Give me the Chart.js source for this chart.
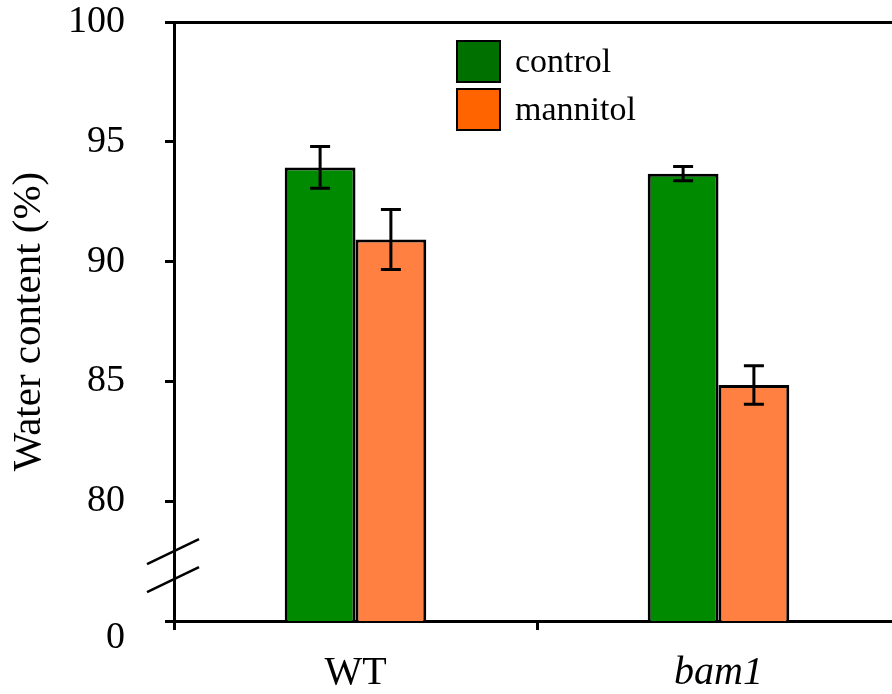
<!DOCTYPE html>
<html>
<head>
<meta charset="utf-8">
<script src="https://cdn.jsdelivr.net/npm/chart.js@4/dist/chart.umd.min.js"></script>
<style>
  html, body { margin: 0; padding: 0; background: #fff; }
  #wrap { width: 892px; height: 694px; overflow: hidden; position: relative; }
  #wrap canvas { position: absolute; left: 0; top: 0; }
</style>
</head>
<body>
<div id="wrap"><canvas id="myChart" width="904" height="694"></canvas></div>
<script>
// data
const groups = ['WT', 'bam1'];
const seriesNames = ['control', 'mannitol'];
const controlValues = [93.93, 93.67];
const controlErrors = [0.87, 0.3];
const mannitolValues = [90.92, 84.85];
const mannitolErrors = [1.25, 0.8];
const yTicks = [75, 80, 85, 90, 95, 100];   // 75 is the broken-axis "0"

const serif = '"Liberation Serif", "Times New Roman", serif';
const barColors = ['#008a00', '#ff8040'];
const legendColors = ['#007000', '#ff6400'];

// error bars, drawn from each bar element and the y scale
const errorBars = {
  id: 'errorBars',
  afterDatasetsDraw(chart) {
    const c = chart.ctx;
    const y = chart.scales.y;
    c.save();
    c.strokeStyle = '#000';
    c.lineWidth = 3;
    chart.data.datasets.forEach((ds, i) => {
      chart.getDatasetMeta(i).data.forEach((bar, j) => {
        const v = ds.data[j], e = ds.errors[j];
        const top = y.getPixelForValue(v + e);
        const bot = y.getPixelForValue(v - e);
        c.beginPath();
        c.moveTo(bar.x, top); c.lineTo(bar.x, bot);
        c.moveTo(bar.x - 10, top); c.lineTo(bar.x + 10, top);
        c.moveTo(bar.x - 10, bot); c.lineTo(bar.x + 10, bot);
        c.stroke();
      });
    });
    c.restore();
  }
};

// the two slashes of the axis break + the legend box
const extras = {
  id: 'extras',
  afterDraw(chart) {
    const c = chart.ctx;
    const y = chart.scales.y;
    const ax = chart.chartArea.left;
    c.save();
    c.strokeStyle = '#000';
    c.lineWidth = 2.5;
    [77.92, 76.75].forEach(v => {
      const py = y.getPixelForValue(v);
      c.beginPath();
      c.moveTo(ax - 27, py + 13);
      c.lineTo(ax + 25, py - 12);
      c.stroke();
    });

    // legend
    c.font = '34px ' + serif;
    c.textBaseline = 'middle';
    c.textAlign = 'left';
    chart.data.datasets.forEach((ds, i) => {
      const bx = 457, by = 41 + i * 48;
      c.fillStyle = legendColors[i];
      c.fillRect(bx, by, 43, 41);
      c.lineWidth = 2;
      c.strokeRect(bx, by, 43, 41);
      c.fillStyle = '#000';
      c.fillText(ds.label, 515, by + 22);
    });
    c.restore();
  }
};

new Chart(document.getElementById('myChart'), {
  type: 'bar',
  data: {
    labels: groups,
    datasets: [{
      label: seriesNames[0],
      data: controlValues,
      errors: controlErrors,
      backgroundColor: barColors[0],
      borderColor: '#000',
      borderWidth: 3
    }, {
      label: seriesNames[1],
      data: mannitolValues,
      errors: mannitolErrors,
      backgroundColor: barColors[1],
      borderColor: '#000',
      borderWidth: 3
    }]
  },
  options: {
    responsive: false,
    animation: false,
    layout: { padding: { top: 22, right: 4, left: 0, bottom: 0 } },
    categoryPercentage: 0.39,
    barPercentage: 1.0,
    plugins: {
      legend: { display: false },
      tooltip: { enabled: false }
    },
    scales: {
      x: {
        grid: { drawOnChartArea: false, drawTicks: true, tickLength: 9, color: '#000', lineWidth: 3 },
        border: { color: '#000', width: 3 },
        ticks: {
          color: '#000',
          padding: 19,
          font: ctx => ({ family: serif, size: 40, style: ctx.index === 1 ? 'italic' : 'normal' })
        },
        afterFit(s) { s.height = 73; s.paddingLeft = 0; s.paddingRight = 0; }
      },
      y: {
        min: 75,
        max: 100,
        afterBuildTicks(s) { s.ticks = yTicks.map(v => ({ value: v })); },
        grid: {
          drawOnChartArea: true,
          color: ctx => (ctx.tick && ctx.tick.value === 100 ? '#000' : 'rgba(0,0,0,0)'),
          tickColor: '#000',
          lineWidth: 3,
          tickLength: 9
        },
        border: { color: '#000', width: 3 },
        ticks: {
          color: '#000',
          padding: 40,
          font: { family: serif, size: 38, lineHeight: 0.9 },
          callback: v => (v === 75 ? ['', '0'] : v)
        },
        title: {
          display: true,
          text: 'Water content (%)',
          color: '#000',
          font: { family: serif, size: 41 },
          padding: { top: 5, bottom: 0 }
        },
        afterFit(s) { s.width = 174; s.paddingTop = 0; s.paddingBottom = 0; }
      }
    }
  },
  plugins: [errorBars, extras]
});
</script>
</body>
</html>
